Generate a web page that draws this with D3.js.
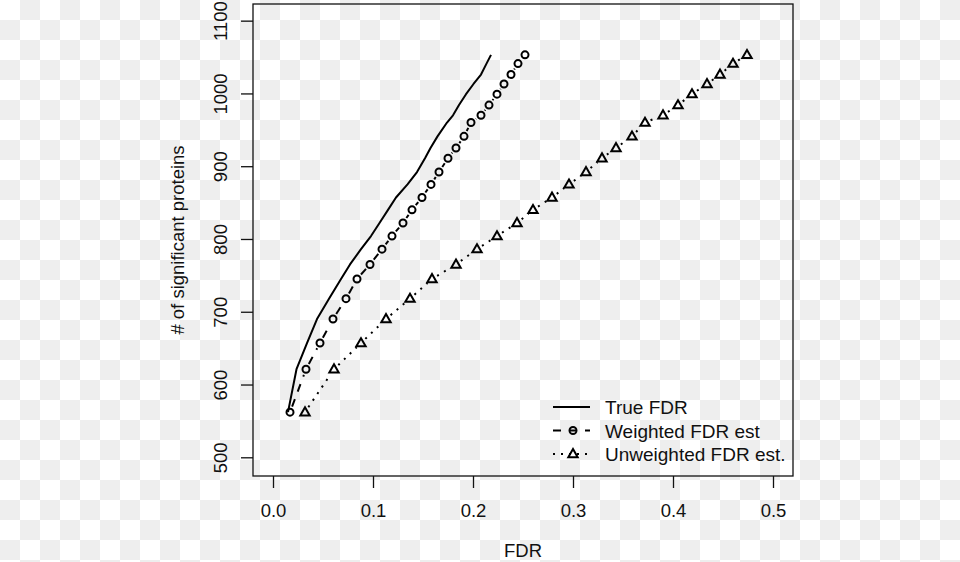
<!DOCTYPE html>
<html>
<head>
<meta charset="utf-8">
<script src="https://cdn.jsdelivr.net/npm/d3@7"></script>
<style>
  html, body { margin: 0; padding: 0; background: #fff; }
  svg { display: block; }
  text { font-family: "Liberation Sans", Arial, Helvetica, sans-serif; fill: #111; }
</style>
</head>
<body>
<svg id="chart" width="960" height="562"></svg>
<script>
// ---- data ----
const nSignificant = [562, 621, 657, 690, 718, 745, 765, 786, 804, 822, 840, 857, 875, 892, 911, 925, 941, 960, 970, 984, 999, 1013, 1026, 1041, 1053];
const trueFDR = [0.015, 0.0235, 0.034, 0.044, 0.056, 0.068, 0.077, 0.088, 0.098, 0.1065, 0.115, 0.123, 0.1345, 0.144, 0.152, 0.1575, 0.1645, 0.174, 0.18, 0.186, 0.193, 0.2005, 0.208, 0.2135, 0.218];
const weightedFDR = [0.017, 0.033, 0.047, 0.060, 0.073, 0.084, 0.097, 0.109, 0.119, 0.130, 0.139, 0.149, 0.158, 0.166, 0.175, 0.183, 0.191, 0.198, 0.208, 0.216, 0.224, 0.231, 0.238, 0.245, 0.252];
const unweightedFDR = [0.032, 0.061, 0.088, 0.113, 0.137, 0.159, 0.183, 0.204, 0.224, 0.244, 0.260, 0.279, 0.296, 0.313, 0.329, 0.343, 0.359, 0.372, 0.390, 0.405, 0.419, 0.434, 0.447, 0.460, 0.474];
const xTicks = [0, 0.1, 0.2, 0.3, 0.4, 0.5];
const yTicks = [500, 600, 700, 800, 900, 1000, 1100];
const legendLabels = ["True FDR", "Weighted FDR est", "Unweighted FDR est."];
const xLabel = "FDR";
const yLabel = "# of significant proteins";

// ---- layout ----
const svg = d3.select("#chart");
const W = 960, H = 562;
const box = {left: 253, right: 793, top: 4, bottom: 476};
const FONT = 18.5;
const LEGFONT = 19;

// checkerboard background
const defs = svg.append("defs");
const pat = defs.append("pattern").attr("id", "checker")
  .attr("patternUnits", "userSpaceOnUse").attr("width", 40).attr("height", 40);
pat.append("rect").attr("width", 40).attr("height", 40).attr("fill", "#ffffff");
pat.append("rect").attr("x", 20).attr("y", 0).attr("width", 20).attr("height", 20).attr("fill", "#eeeeee");
pat.append("rect").attr("x", 0).attr("y", 20).attr("width", 20).attr("height", 20).attr("fill", "#eeeeee");
svg.append("rect").attr("width", W).attr("height", H).attr("fill", "url(#checker)");

const x = d3.scaleLinear().domain([-0.02, 0.52]).range([box.left, box.right]);
const y = d3.scaleLinear().domain([474.3, 1122.9]).range([box.bottom, box.top]);

// plot box
svg.append("rect")
  .attr("x", box.left).attr("y", box.top)
  .attr("width", box.right - box.left).attr("height", box.bottom - box.top)
  .attr("fill", "none").attr("stroke", "#111").attr("stroke-width", 1.3);

// x axis
const xAxis = d3.axisBottom(x).tickValues(xTicks).tickFormat(d3.format(".1f")).tickSize(12).tickPadding(16);
const gx = svg.append("g").attr("transform", `translate(0,${box.bottom})`).call(xAxis);
gx.select(".domain").remove();
gx.selectAll(".tick line").attr("stroke", "#111").attr("stroke-width", 1.3);
gx.selectAll(".tick text").attr("font-size", FONT).attr("font-family", null).attr("fill", "#111");

// y axis
const yAxis = d3.axisLeft(y).tickValues(yTicks).tickFormat(d3.format("d")).tickSize(12);
const gy = svg.append("g").attr("transform", `translate(${box.left},0)`).call(yAxis);
gy.select(".domain").remove();
gy.selectAll(".tick line").attr("stroke", "#111").attr("stroke-width", 1.3);
gy.selectAll(".tick text")
  .attr("font-size", FONT).attr("font-family", null).attr("fill", "#111")
  .attr("x", null).attr("dy", null)
  .attr("text-anchor", "middle")
  .attr("transform", "translate(-26,0) rotate(-90)");

// axis titles
svg.append("text").attr("x", (box.left + box.right) / 2).attr("y", 557)
  .attr("text-anchor", "middle").attr("font-size", FONT).text(xLabel);
svg.append("text").attr("transform", `translate(184,${(box.top + box.bottom) / 2}) rotate(-90)`)
  .attr("text-anchor", "middle").attr("font-size", FONT).text(yLabel);

// helpers
const LW = 2;
function gappedSegments(g, xs, dash, gap) {
  for (let i = 0; i < xs.length - 1; i++) {
    const x1 = x(xs[i]), y1 = y(nSignificant[i]);
    const x2 = x(xs[i + 1]), y2 = y(nSignificant[i + 1]);
    const dx = x2 - x1, dy = y2 - y1, L = Math.hypot(dx, dy);
    if (L <= 2 * gap) continue;
    const ux = dx / L, uy = dy / L;
    g.append("line")
      .attr("x1", x1 + ux * gap).attr("y1", y1 + uy * gap)
      .attr("x2", x2 - ux * gap).attr("y2", y2 - uy * gap)
      .attr("stroke", "#000").attr("stroke-width", LW)
      .attr("stroke-dasharray", dash).attr("stroke-linecap", "butt");
  }
}
const triSym = d3.symbol().type(d3.symbolTriangle).size(38);

// True FDR: solid line
svg.append("path")
  .datum(d3.zip(trueFDR, nSignificant))
  .attr("d", d3.line().x(d => x(d[0])).y(d => y(d[1])))
  .attr("fill", "none").attr("stroke", "#000").attr("stroke-width", LW)
  .attr("stroke-linejoin", "round");

// Weighted: dashed with open circles
const gw = svg.append("g");
gappedSegments(gw, weightedFDR, "8,8", 6);
gw.selectAll("circle").data(d3.zip(weightedFDR, nSignificant)).join("circle")
  .attr("cx", d => x(d[0])).attr("cy", d => y(d[1])).attr("r", 3.5)
  .attr("fill", "none").attr("stroke", "#000").attr("stroke-width", LW);

// Unweighted: dotted with open triangles
const gu = svg.append("g");
gappedSegments(gu, unweightedFDR, "2,6", 6);
gu.selectAll("path.tri").data(d3.zip(unweightedFDR, nSignificant)).join("path")
  .attr("class", "tri")
  .attr("d", triSym)
  .attr("transform", d => `translate(${x(d[0])},${y(d[1]) + 0.5})`)
  .attr("fill", "none").attr("stroke", "#000").attr("stroke-width", LW)
  .attr("stroke-linejoin", "miter");

// legend
const legY = [407, 430.5, 454];
const lx1 = 553, lx2 = 590, lmid = 573, ltx = 605;
const lg = svg.append("g");
lg.append("line").attr("x1", lx1).attr("x2", lx2).attr("y1", legY[0]).attr("y2", legY[0])
  .attr("stroke", "#000").attr("stroke-width", LW);
lg.append("line").attr("x1", lx1).attr("x2", lx2).attr("y1", legY[1]).attr("y2", legY[1])
  .attr("stroke", "#000").attr("stroke-width", LW).attr("stroke-dasharray", "8,8");
lg.append("circle").attr("cx", lmid).attr("cy", legY[1]).attr("r", 3.5)
  .attr("fill", "none").attr("stroke", "#000").attr("stroke-width", LW);
lg.append("line").attr("x1", lx1).attr("x2", lx2).attr("y1", legY[2]).attr("y2", legY[2])
  .attr("stroke", "#000").attr("stroke-width", LW).attr("stroke-dasharray", "2,6");
lg.append("path").attr("d", triSym).attr("transform", `translate(${lmid},${legY[2] + 0.5})`)
  .attr("fill", "none").attr("stroke", "#000").attr("stroke-width", LW);
legendLabels.forEach((t, i) => {
  lg.append("text").attr("x", ltx).attr("y", legY[i] + 7)
    .attr("font-size", LEGFONT).text(t);
});
</script>
</body>
</html>
